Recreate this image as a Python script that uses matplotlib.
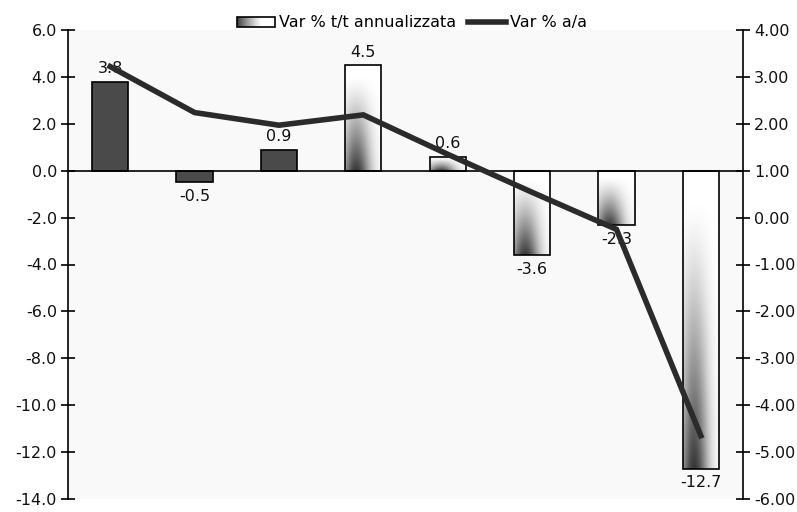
import numpy as np
import matplotlib
matplotlib.use("Agg")
import matplotlib.pyplot as plt
from matplotlib.patches import Rectangle
from matplotlib.legend_handler import HandlerBase
from matplotlib.image import BboxImage
from matplotlib.transforms import Bbox, TransformedBbox

plt.rcParams["font.family"] = "DejaVu Sans"
plt.rcParams["axes.unicode_minus"] = False

# quarterly changes
tt_annual = [3.8, -0.5, 0.9, 4.5, 0.6, -3.6, -2.3, -12.7]
yoy = [3.22, 2.24, 1.97, 2.19, 1.35, 0.54, -0.25, -4.65]
shaded = [False, False, False, True, True, True, True, True]
label_tt = "Var % t/t annualizzata"
label_yoy = "Var % a/a"
left_ticks = [-14, -12, -10, -8, -6, -4, -2, 0, 2, 4, 6]
right_ticks = [-6, -5, -4, -3, -2, -1, 0, 1, 2, 3, 4]

BAR_W = 0.43
DARK = "#4a4a4a"
LINE = "#2b2b2b"
FS = 11.5


def bar_shade(w=60, h=120):
    # smooth dark band left of centre, strongest at the bottom, white on top
    u = np.linspace(0, 1, w)[None, :]
    v = np.linspace(0, 1, h)[:, None]
    across = np.exp(-((u - 0.3) / 0.38) ** 2)
    up = np.clip(1 - v / 0.9, 0, 1) ** 1.3
    return 1 - 0.78 * across * up


class GradientHandler(HandlerBase):
    def create_artists(self, legend, orig_handle, xdescent, ydescent,
                       width, height, fontsize, trans):
        bb = Bbox.from_bounds(-xdescent, -ydescent, width, height)
        img = BboxImage(TransformedBbox(bb, trans), cmap="gray",
                        norm=plt.Normalize(0, 1), interpolation="bilinear")
        u = np.linspace(0, 1, 60)[None, :]
        img.set_data(np.repeat(1 - 0.75 * np.clip(1 - u / 0.65, 0, 1) ** 1.2, 4, axis=0))
        frame = Rectangle((-xdescent, -ydescent), width, height, facecolor="none",
                          edgecolor="black", lw=1.2, transform=trans)
        return [img, frame]


fig = plt.figure(figsize=(7.97, 5.12), dpi=100)
ax = fig.add_axes([68 / 797, 1 - 499 / 512, (743 - 68) / 797, (499 - 30) / 512])
ax.set_facecolor("#f9f9f9")

x = np.arange(len(tt_annual))
for xi, val, sh in zip(x, tt_annual, shaded):
    if sh:
        rect = Rectangle((xi - BAR_W / 2, min(0, val)), BAR_W, abs(val),
                         facecolor="none", edgecolor="black", lw=1.2, zorder=3)
        ax.add_patch(rect)
        im = ax.imshow(bar_shade(), cmap="gray", vmin=0, vmax=1, origin="lower",
                       extent=(xi - BAR_W / 2, xi + BAR_W / 2, min(0, val), max(0, val)),
                       aspect="auto", interpolation="bilinear", zorder=2)
        im.set_clip_path(rect)
    else:
        ax.bar(xi, val, width=BAR_W, color=DARK, edgecolor="black", lw=1.2, zorder=3)
    if val >= 0:
        ax.annotate(f"{val:.1f}", (xi, val), xytext=(0, 4), textcoords="offset points",
                    ha="center", va="bottom", fontsize=FS, color="#111111", zorder=4)
    else:
        ax.annotate(f"{val:.1f}", (xi, val), xytext=(0, -5), textcoords="offset points",
                    ha="center", va="top", fontsize=FS, color="#111111", zorder=4)

ax.axhline(0, color="black", lw=1.2, zorder=3)
ax.set_xlim(-0.5, len(tt_annual) - 0.5)
ax.set_ylim(-14, 6)
ax.set_yticks(left_ticks)
ax.set_yticklabels([f"{t:.1f}" for t in left_ticks])
ax.set_xticks([])
ax.tick_params(axis="y", direction="inout", length=10, width=1.2, labelsize=FS,
               labelcolor="#111111", pad=3)
for s in ["top", "bottom", "right"]:
    ax.spines[s].set_visible(False)
ax.spines["left"].set_linewidth(1.2)

ax2 = ax.twinx()
ax2.plot(x, yoy, color=LINE, lw=4.0, solid_joinstyle="miter", zorder=5)
ax2.set_ylim(-6, 4)
ax2.set_yticks(right_ticks)
ax2.set_yticklabels([f"{t:.2f}" for t in right_ticks])
ax2.tick_params(axis="y", direction="inout", length=10, width=1.2, labelsize=FS,
                labelcolor="#111111", pad=3)
for s in ["top", "bottom", "left"]:
    ax2.spines[s].set_visible(False)
ax2.spines["right"].set_linewidth(1.2)

bar_handle = Rectangle((0, 0), 1, 1)
line_handle = plt.Line2D([], [], color=LINE, lw=4.0)
fig.legend([bar_handle, line_handle], [label_tt, label_yoy],
           handler_map={Rectangle: GradientHandler()},
           loc="center", bbox_to_anchor=(412 / 797, 1 - 23 / 512), ncol=2,
           frameon=False, fontsize=FS, handlelength=2.35, handleheight=0.55,
           handletextpad=0.25, columnspacing=0.8, borderpad=0)

fig.savefig("out.png", dpi=100)
